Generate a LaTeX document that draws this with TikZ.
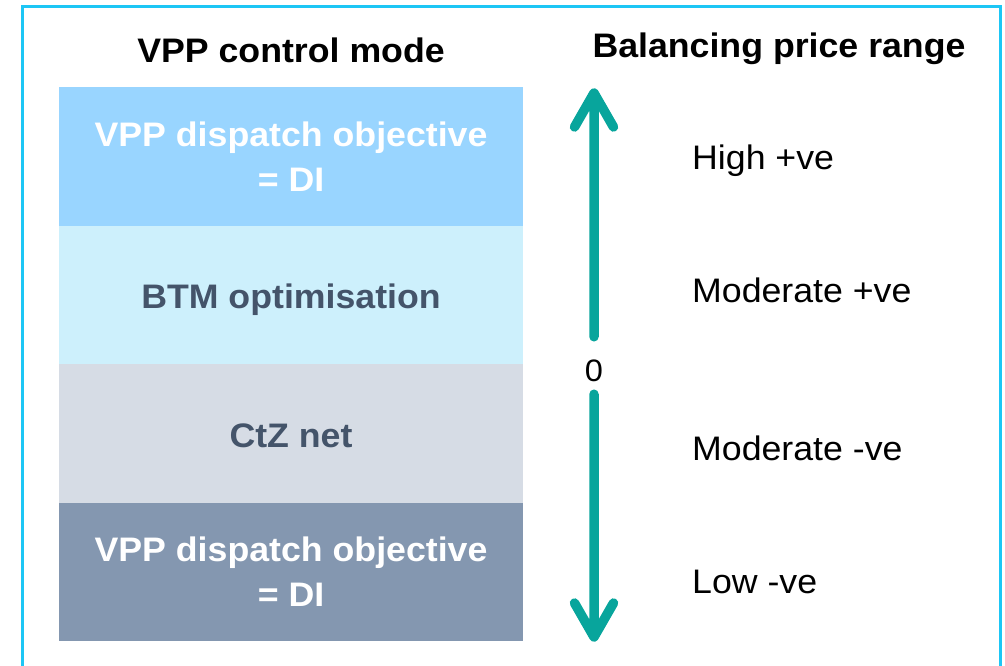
\documentclass[tikz,border=0pt]{standalone}
\usepackage{fontspec}
\setmainfont{Liberation Sans}[FakeStretch=1.05]
\definecolor{frame}{HTML}{1DC6F5}
\definecolor{boxA}{HTML}{99D5FF}
\definecolor{boxB}{HTML}{CDF0FC}
\definecolor{boxC}{HTML}{D6DCE5}
\definecolor{boxD}{HTML}{8497B0}
\definecolor{slate}{HTML}{44546A}
\definecolor{tealc}{HTML}{08A59C}
\begin{document}
\begin{tikzpicture}[x=1pt,y=-1pt,
  band/.style={minimum width=464pt, minimum height=138.5pt, inner sep=0pt, outer sep=0pt, align=center, font=\fontsize{34}{45}\selectfont\bfseries},
  oneline/.style={text height=27.5pt, text depth=0pt},
  head/.style={font=\fontsize{34}{40}\selectfont\bfseries, inner sep=0pt},
  lbl/.style={font=\fontsize{34}{40}\selectfont, anchor=west, inner sep=0pt, text height=25pt, text depth=0pt},
  arr/.style={draw=tealc, line width=9.5pt, line cap=round, line join=round}]
\useasboundingbox (0,0) rectangle (1005,665);
\draw[frame, line width=3pt] (22.5,690) -- (22.5,6.5) -- (1000.5,6.5) -- (1000.5,690);
\node[head] (h1) at (291,50) {VPP control mode};
\node[head] (h2) at (779,49) {Balancing price range};
\node[band, fill=boxA, text=white] (b1) at (291,156.25) {VPP dispatch objective\\= DI};
\node[band, oneline, fill=boxB, text=slate, anchor=north] (b2) at (b1.south) {BTM optimisation};
\node[band, oneline, fill=boxC, text=slate, anchor=north] (b3) at (b2.south) {CtZ net};
\node[band, fill=boxD, text=white, anchor=north] (b4) at (b3.south) {VPP dispatch objective\\= DI};
\node[lbl] (l1) at (692,157) {High +ve};
\node[lbl] (l2) at (692,290) {Moderate +ve};
\node[lbl] (l3) at (692,448) {Moderate -ve};
\node[lbl] (l4) at (692,581) {Low -ve};
\node[inner sep=0pt, text height=44pt, text depth=13pt, font=\fontsize{31}{36}\selectfont] (zero) at (594,365.5) {0};
\coordinate (up) at (594,93);
\coordinate (down) at (594,637);
\draw[arr] (zero.north) -- (up) -- ++(-19.5,34) (up) -- ++(19.5,34);
\draw[arr] (zero.south) -- (down) -- ++(-19.5,-34) (down) -- ++(19.5,-34);
\end{tikzpicture}
\end{document}
